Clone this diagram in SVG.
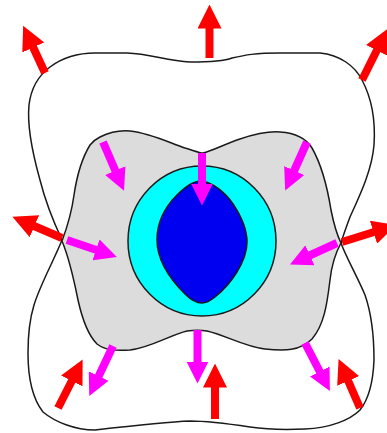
<svg xmlns="http://www.w3.org/2000/svg" width="387" height="433" viewBox="0 0 387 433">
<style>
.outline{stroke:#1a1a1a;stroke-width:1.5;stroke-linejoin:round}
.red{stroke:#ff0000;stroke-width:8;fill:none;marker-end:url(#hr)}
.mag{stroke:#ff00ff;stroke-width:8;fill:none;marker-end:url(#hm)}
</style>
<defs>
<marker id="hr" markerUnits="userSpaceOnUse" markerWidth="24" markerHeight="24" viewBox="0 0 24 24" refX="0.5" refY="12" orient="auto"><path d="M0,0L24,12L0,24z" fill="#ff0000"/></marker>
<marker id="hm" markerUnits="userSpaceOnUse" markerWidth="22" markerHeight="22" viewBox="0 0 22 22" refX="0.5" refY="11" orient="auto"><path d="M0,0L22,11L0,22z" fill="#ff00ff"/></marker>
</defs>
<rect width="387" height="433" fill="#ffffff"/>
<g id="outer">
<path class="outline" fill="#ffffff" d="M62,240 C55,225 45,200 40,180 C33,155 27,125 29,105 C31,88 38,76 50,67 C62,58 75,53 95,53 L127,53 C150,54 165,60 190,62 C205,62 222,62 232,58 C245,55 255,53 280,53 L320,53 C340,55 355,66 362,80 C370,95 376,115 374,145 C372,170 360,195 350,217 C346,228 343,236 341,243 C345,255 358,278 365,295 C372,315 374,340 374,360 C373,385 368,400 360,410 C350,420 330,428 305,429 C285,430 270,430 250,427 C230,424 210,421 190,421 C165,422 130,426 95,430 C75,430 55,422 43,412 C32,398 28,375 28,353 C28,335 30,318 34,305 C40,285 55,258 62,240 Z"/>
</g>
<g id="gray-zone">
<path class="outline" fill="#dcdcdc" d="M100,137 C110,132 120,130 130,131 C150,133 170,143 185,148 C195,151 200,153 203,153 C212,151 225,144 240,139 C255,134 268,131 280,132 C295,133 306,138 312,148 C320,162 327,185 331,210 C334,225 337,235 341,243 C336,252 332,262 330,280 C327,305 324,325 312,339 C300,351 285,351 265,349 C245,347 225,335 207,331 C200,330 195,330 187,331 C170,335 150,348 130,350 C115,351 105,350 97,344 C88,335 82,318 78,300 C74,280 70,260 62,241 C68,225 72,210 74,195 C77,175 82,158 90,145 C93,141 96,139 100,137 Z"/>
</g>
<g id="cyan-ring">
<ellipse class="outline" fill="#00ffff" cx="202" cy="241" rx="74" ry="75"/>
</g>
<g id="blue-core">
<path class="outline" fill="#0000f0" d="M201,181 C212,182 225,192 233,204 C241,216 247,228 247,242 C247,262 230,285 215,297 C210,301 206,303 202,303 C196,303 190,299 185,294 C172,281 157,262 157,240 C157,222 166,206 177,195 C185,187 193,181 201,181 Z"/>
</g>
<g id="connectors">
<line class="red" x1="209.5" y1="58" x2="209.5" y2="28"/>
<line class="red" x1="45" y1="73" x2="33" y2="47"/>
<line class="red" x1="362" y1="80" x2="377" y2="50"/>
<line class="red" x1="62" y1="238" x2="34" y2="226"/>
<line class="red" x1="342" y1="242" x2="374" y2="232"/>
<line class="red" x1="58" y1="408" x2="72" y2="380.5"/>
<line class="red" x1="215" y1="419" x2="215" y2="387"/>
<line class="red" x1="360" y1="408" x2="348" y2="380.5"/>
<line class="mag" x1="202" y1="153" x2="202" y2="184"/>
<line class="mag" x1="103" y1="142" x2="115.5" y2="171"/>
<line class="mag" x1="307" y1="142" x2="294" y2="171"/>
<line class="mag" x1="67" y1="240" x2="96.5" y2="250"/>
<line class="mag" x1="337" y1="243" x2="309.5" y2="255.5"/>
<line class="mag" x1="113" y1="346" x2="98.5" y2="376.5"/>
<line class="mag" x1="197.5" y1="330" x2="197.5" y2="362"/>
<line class="mag" x1="305" y1="343" x2="320" y2="372"/>
</g>
</svg>
